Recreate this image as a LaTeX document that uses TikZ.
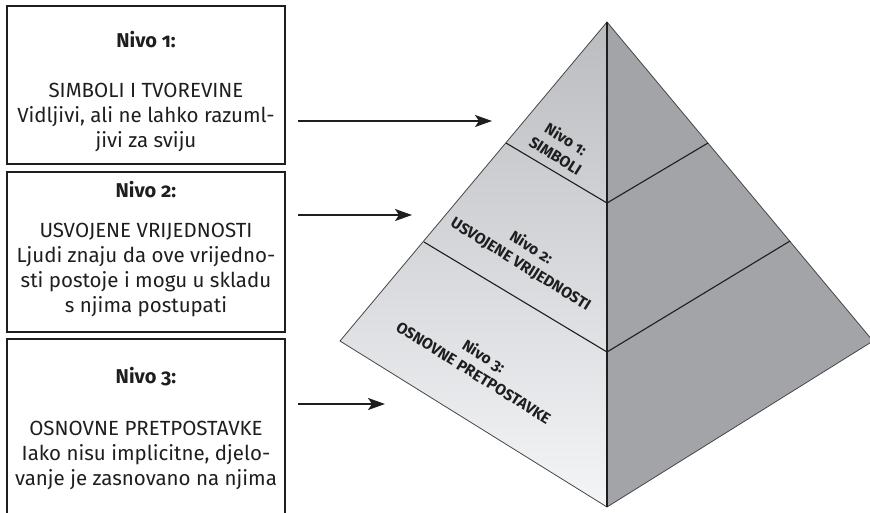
\documentclass[tikz,border=0pt]{standalone}
\usepackage{fontspec}
\setmainfont{Fira Sans}[Numbers=OldStyle]
\usetikzlibrary{arrows.meta}

\definecolor{facetop}{RGB}{186,188,192}
\definecolor{facebot}{RGB}{244,245,247}
\definecolor{faceside}{RGB}{163,164,168}
\definecolor{rim}{RGB}{70,70,72}
\definecolor{ink}{RGB}{30,30,30}

\tikzset{
  levelbox/.style={draw=ink, line width=1.3pt, minimum width=278pt, inner sep=0pt},
  boxtitle/.style={font=\fontsize{20}{25}\selectfont\bfseries, text=ink, anchor=base, inner sep=0pt},
  boxbody/.style={font=\fontsize{20.5}{25}\selectfont, text=ink, align=center, anchor=north, inner sep=0pt},
  pointer/.style={draw=ink, line width=2pt, -{Stealth[length=17pt,width=12pt,inset=4pt]}},
  tierline/.style={draw=ink, line width=1.1pt},
  plabel/.style={font=\fontsize{15.5}{19.5}\selectfont\bfseries, text=ink, align=center, rotate=-32, inner sep=0pt}
}

\begin{document}
\begin{tikzpicture}[x=1pt,y=-1pt]
\useasboundingbox (0,0) rectangle (870,512);

% pyramid corners and tier points
\coordinate (A)  at (607,22);
\coordinate (L)  at (340,341);
\coordinate (R)  at (873,341);
\coordinate (B)  at (607,507);
\coordinate (C1) at (607,203);
\coordinate (C2) at (607,352);
\coordinate (L1) at (506,143);
\coordinate (L2) at (424,242);
\coordinate (R1) at (708,143);
\coordinate (R2) at (790,241);

% faces
\path[top color=facetop, bottom color=facebot] (A) -- (L) -- (B) -- cycle;
\path[fill=faceside] (A) -- (R) -- (B) -- cycle;
\draw[rim, line width=0.8pt, line join=round] (A) -- (L) -- (B) -- (R) -- cycle;
\draw[tierline] (A) -- (B);
\draw[tierline] (L1) -- (C1) -- (R1);
\draw[tierline] (L2) -- (C2) -- (R2);

% labels on the pyramid
\node[plabel] (p1) at (561,147) {Nivo 1:\\SIMBOLI};
\node[plabel] (p2) at (526,256) {Nivo 2:\\USVOJENE VRIJEDNOSTI};
\node[plabel] (p3) at (479,364) {Nivo 3:\\OSNOVNE PRETPOSTAVKE};

% description boxes
\node[levelbox, minimum height=158pt] (b1) at (146,85) {};
\node[levelbox, minimum height=160pt] (b2) at (146,252) {};
\node[levelbox, minimum height=184pt] (b3) at (146,431) {};

\node[boxtitle] (t1) at (146,47) {Nivo 1:};
\node[boxbody] (d1) at (146,83) {SIMBOLI I TVOREVINE\\Vidljivi, ali ne lahko razuml-\\jivi za sviju};

\node[boxtitle] (t2) at (146,197) {Nivo 2:};
\node[boxbody] (d2) at (146,223) {USVOJENE VRIJEDNOSTI\\Ljudi znaju da ove vrijedno-\\sti postoje i mogu u skladu\\s njima postupati};

\node[boxtitle] (t3) at (146,383) {Nivo 3:};
\node[boxbody] (d3) at (146,421) {OSNOVNE PRETPOSTAVKE\\Iako nisu implicitne, djelo-\\vanje je zasnovano na njima};

% arrows from the boxes to the tiers
\coordinate (s1) at (298,121);
\coordinate (e1) at (492,121);
\coordinate (s2) at (298,215);
\coordinate (e2) at (412,215);
\coordinate (s3) at (298,404);
\coordinate (e3) at (385,404);
\draw[pointer] (s1) -- (e1);
\draw[pointer] (s2) -- (e2);
\draw[pointer] (s3) -- (e3);
\end{tikzpicture}
\end{document}
